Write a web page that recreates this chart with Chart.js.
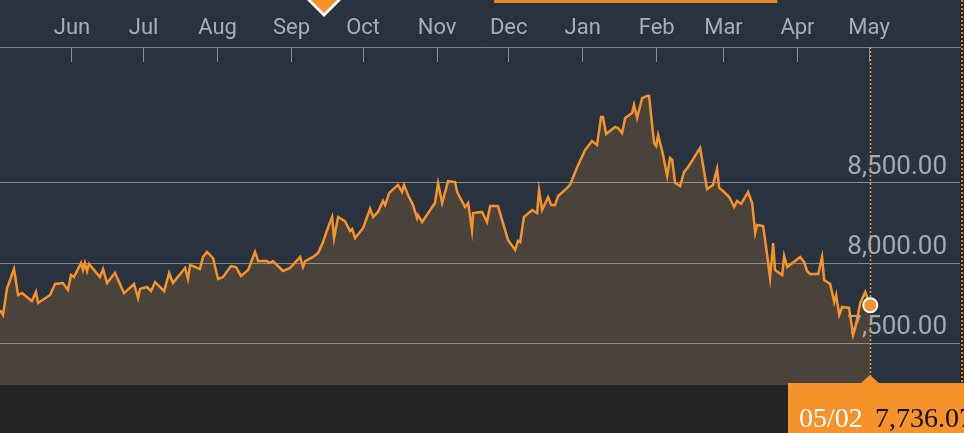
<!DOCTYPE html>
<html>
<head>
<meta charset="utf-8">
<script src="https://cdn.jsdelivr.net/npm/chart.js@4"></script>
<style>
  body { margin: 0; background: #232323; }
  canvas { display: block; }
</style>
</head>
<body>
<canvas id="myChart" width="964" height="433"></canvas>
<script>
// days counted from Jun 1
const days = [
  -30.2, -28.9, -27.2, -24.3, -22.6, -21.0, -16.8, -15.1, -14.2, -9.2,
  -7.1, -3.8, -1.7, -0.4, 0.8, 3.8, 4.6, 5.4, 6.3, 7.1,
  11.7, 13.0, 14.7, 18.0, 21.8, 26.0, 27.7, 28.5, 31.4, 33.1,
  34.8, 38.6, 40.7, 42.3, 47.4, 48.6, 49.5, 51.6, 53.6,
  54.9, 56.6, 59.1, 61.2, 63.3, 66.6, 68.7, 70.8, 73.8, 76.7,
  78.0, 81.7, 82.6, 84.2, 88.4, 91.4, 95.6, 96.8, 97.7, 101.0,
  103.1, 105.2, 106.9, 109.0, 109.8, 111.5, 114.4, 116.5, 117.4, 118.6,
  122.0, 124.9, 126.2, 128.2, 130.3, 131.2,
  132.9, 136.6, 138.3, 139.1, 140.8, 142.9, 144.6, 145.0, 146.7, 152.1,
  153.4, 155.1, 157.6, 160.5, 161.4, 164.7, 166.0, 167.6, 168.1, 171.8,
  173.9, 175.2, 178.5, 180.2, 182.7, 185.7, 186.9, 187.8, 189.4, 192.8,
  194.9, 195.7, 197.0, 199.5, 200.8, 202.4, 203.7, 207.5,
  208.7, 211.7, 215.0, 217.9, 220.0, 221.7, 222.5, 223.8, 227.6, 228.8,
  230.5, 231.8, 234.7, 235.5, 236.8, 238.9, 241.0, 241.8, 243.9, 244.8,
  245.6, 247.7, 249.4, 250.6, 251.5, 252.7, 254.8, 256.5, 258.2, 263.2,
  266.1, 268.6, 270.3, 271.2, 272.8, 275.4, 277.5, 278.7, 280.4, 283.3,
  285.0,
  286.3, 287.1, 289.6, 291.3, 292.5, 293.8, 294.6, 297.6, 298.4, 299.7,
  305.1, 306.8, 308.0, 309.3, 312.7, 314.3, 315.2, 317.7, 319.4, 320.2,
  321.5, 322.7, 325.6, 327.3, 328.2, 330.3, 332.4, 334.5
];
const values = [
  7706, 7675, 7844, 7962, 7800, 7812, 7762, 7819, 7750, 7800,
  7869, 7875, 7831, 7925, 7912, 8000, 7956, 8000, 7950, 7994,
  7912, 7962, 7875, 7938, 7812, 7869, 7781, 7838, 7850, 7825,
  7881, 7825, 7938, 7875, 7969, 7900, 7988, 7975, 7962,
  8038, 8069, 8031, 7900, 7912, 7981, 7975, 7919, 7956, 8069,
  8012, 8012, 8000, 8012, 7950, 7969, 8038, 7975, 8012, 8038,
  8062, 8131, 8206, 8288, 8156, 8288, 8262, 8200, 8212, 8156,
  8219, 8338, 8288, 8319, 8388, 8362,
  8438, 8488, 8444, 8488, 8425, 8362, 8281, 8300, 8256, 8375,
  8500, 8375, 8512, 8506, 8444, 8350, 8375, 8206, 8312, 8319,
  8256, 8356, 8356, 8269, 8144, 8081, 8138, 8131, 8288, 8331,
  8312, 8456, 8331, 8412, 8362, 8362, 8419, 8469,
  8488, 8600, 8706, 8762, 8738, 8912, 8912, 8806, 8850, 8844,
  8812, 8906, 8938, 8988, 8906, 9031, 9044, 9044, 8750, 8731,
  8800, 8675, 8544, 8656, 8644, 8500, 8481, 8569, 8600, 8719,
  8462, 8488, 8588, 8469, 8450, 8412, 8350, 8388, 8369, 8444,
  8375,
  8188, 8238, 8231, 8050, 7906, 8125, 7956, 7925, 8044, 7975,
  8038, 8006, 7950, 7931, 7931, 8038, 7894, 7869, 7756, 7800,
  7675, 7725, 7719, 7550, 7594, 7750, 7819, 7736.07
];

const monthDays = [0, 30, 61, 92, 122, 153, 183, 214, 245, 273, 304, 334];
const monthLabels = ['Jun', 'Jul', 'Aug', 'Sep', 'Oct', 'Nov', 'Dec', 'Jan', 'Feb', 'Mar', 'Apr', 'May'];
const yTicks = [7500, 8000, 8500];
const lastDate = '05/02';
const eventDay = 105.6;          // orange marker at the top
const bandDays = [176.9, 295.5];  // orange strip at the top

const ORANGE = '#f5922a';

const fmt = (v) => v.toLocaleString('en-US', { minimumFractionDigits: 2, maximumFractionDigits: 2 });

const overlay = {
  id: 'overlay',
  beforeDraw(chart) {
    const { ctx, chartArea: a } = chart;
    ctx.save();
    ctx.fillStyle = '#28333f';
    ctx.fillRect(0, 0, a.right, a.bottom);
    ctx.fillStyle = '#232323';
    ctx.fillRect(0, a.bottom, chart.width, chart.height - a.bottom);
    ctx.fillRect(a.right, 0, chart.width - a.right, a.bottom);
    ctx.restore();
  },
  beforeDatasetsDraw(chart) {
    const { ctx, chartArea: a, scales } = chart;
    const lx = Math.round(scales.x.getPixelForValue(days[days.length - 1])) + 0.5;
    ctx.save();
    ctx.strokeStyle = '#d99a3a';
    ctx.lineWidth = 1.5;
    ctx.setLineDash([2, 2]);
    ctx.beginPath();
    ctx.moveTo(lx, a.top);
    ctx.lineTo(lx, a.bottom - 8);
    ctx.stroke();
    ctx.restore();
  },
  afterDraw(chart) {
    const { ctx, chartArea: a, scales } = chart;
    const x = scales.x;
    const lx = Math.round(x.getPixelForValue(days[days.length - 1]));
    ctx.save();

    // right dotted border
    ctx.strokeStyle = '#e0892a';
    ctx.lineWidth = 2;
    ctx.setLineDash([2, 2]);
    ctx.beginPath();
    ctx.moveTo(962, 0);
    ctx.lineTo(962, a.bottom);
    ctx.stroke();
    ctx.setLineDash([]);

    // bottom label box
    const top = a.bottom - 2;
    ctx.fillStyle = ORANGE;
    ctx.fillRect(lx - 82, top, chart.width - (lx - 82), chart.height - top);
    ctx.beginPath();
    ctx.moveTo(lx - 10, top + 1);
    ctx.lineTo(lx, top - 8);
    ctx.lineTo(lx + 10, top + 1);
    ctx.closePath();
    ctx.fill();
    ctx.font = '28px "Liberation Serif", "DejaVu Serif", serif';
    ctx.textBaseline = 'alphabetic';
    ctx.textAlign = 'left';
    ctx.fillStyle = '#ffffff';
    ctx.fillText(lastDate, lx - 71, 427);
    ctx.fillStyle = '#111111';
    ctx.fillText(fmt(values[values.length - 1]), lx + 5, 427);

    // top strip and event marker
    const b0 = x.getPixelForValue(bandDays[0]);
    const b1 = x.getPixelForValue(bandDays[1]);
    ctx.fillStyle = '#e98a22';
    ctx.fillRect(b0, 0, b1 - b0, 3);
    const ex = x.getPixelForValue(eventDay);
    ctx.fillStyle = '#ffffff';
    ctx.beginPath();
    ctx.moveTo(ex - 17, 0);
    ctx.lineTo(ex + 17, 0);
    ctx.lineTo(ex, 17);
    ctx.closePath();
    ctx.fill();
    ctx.fillStyle = ORANGE;
    ctx.beginPath();
    ctx.moveTo(ex - 13, 0);
    ctx.lineTo(ex + 13, 0);
    ctx.lineTo(ex, 13);
    ctx.closePath();
    ctx.fill();
    ctx.restore();
  }
};

Chart.defaults.font.family = 'Roboto';

const ctx = document.getElementById('myChart');
const chart = new Chart(ctx, {
  type: 'line',
  data: {
    datasets: [{
      data: days.map((d, i) => ({ x: d, y: values[i] })),
      borderColor: ORANGE,
      borderWidth: 2.5,
      backgroundColor: 'rgba(245, 146, 42, 0.17)',
      fill: 'start',
      tension: 0,
      pointRadius: days.map((d, i) => (i === days.length - 1 ? 7 : 0)),
      pointBackgroundColor: ORANGE,
      pointBorderColor: '#ffffff',
      pointBorderWidth: 2
    }]
  },
  options: {
    responsive: false,
    animation: false,
    layout: { autoPadding: false, padding: { top: 0, right: 4, bottom: 48, left: 0 } },
    plugins: { legend: { display: false }, tooltip: { enabled: false } },
    scales: {
      x: {
        type: 'linear',
        position: 'top',
        min: -30.17,
        max: 372.1,
        afterBuildTicks: (scale) => { scale.ticks = monthDays.map(v => ({ value: v })); },
        afterFit: (scale) => {
          scale.height = 47;
          scale.paddingLeft = 0;
          scale.paddingRight = 0;
        },
        grid: { drawOnChartArea: false, drawTicks: true, tickLength: -15, color: '#8a9097', lineWidth: 1 },
        border: { display: true, color: '#7d848b', width: 1 },
        ticks: {
          autoSkip: false,
          maxRotation: 0,
          padding: 20,
          color: '#a7aeb5',
          font: { size: 22 },
          callback: (v, i) => monthLabels[i]
        }
      },
      y: {
        position: 'right',
        min: 7237.5,
        max: 9350,
        afterBuildTicks: (scale) => { scale.ticks = yTicks.map(v => ({ value: v })); },
        afterFit: (scale) => {
          scale.width = 0;
          scale.paddingTop = 0;
          scale.paddingBottom = 0;
        },
        grid: { drawTicks: false, color: '#868b90', lineWidth: 1 },
        border: { display: false },
        ticks: {
          mirror: true,
          padding: -13,
          labelOffset: -16,
          color: '#a3a9af',
          font: { size: 26 },
          callback: (v) => fmt(v)
        }
      }
    }
  },
  plugins: [overlay]
});
</script>
</body>
</html>
